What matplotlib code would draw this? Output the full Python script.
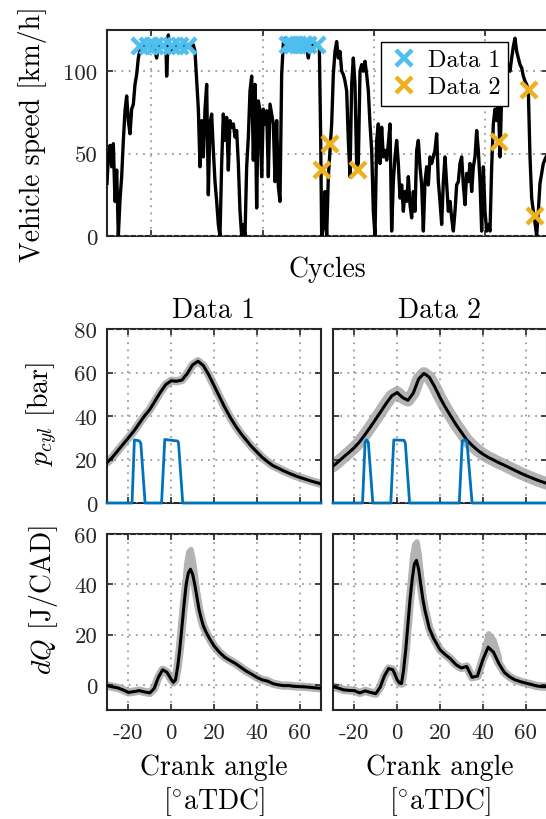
import numpy as np
import matplotlib
matplotlib.use("Agg")
import matplotlib.pyplot as plt

plt.rcParams.update({
    "font.family": ["cmr10", "DejaVu Serif"],
    "mathtext.fontset": "cm",
    "axes.unicode_minus": False,
})

# ---------------- data: vehicle speed over cycles ----------------
cycles = [0, 12, 27, 42, 57, 72, 87, 102, 117, 132, 147, 162, 177, 192, 207, 222, 237, 252, 267, 282,
          297, 327, 372, 417, 447, 462, 507, 531, 537, 552, 567, 612, 657, 702, 747, 777, 792, 807, 822,
          837, 852, 867, 882, 897, 912, 927, 942, 957, 972, 987, 1002, 1017, 1032, 1047, 1062, 1077,
          1092, 1107, 1122, 1137, 1152, 1167, 1182, 1197, 1212, 1227, 1242, 1257, 1272, 1287, 1302,
          1317, 1332, 1347, 1362, 1377, 1392, 1407, 1422, 1437, 1452, 1467, 1482, 1497, 1512, 1527,
          1542, 1557, 1572, 1587, 1602, 1647, 1707, 1767, 1797, 1812, 1827, 1872, 1911, 1923, 1932,
          1947, 1962, 1977, 1992, 2007, 2022, 2037, 2052, 2067, 2082, 2097, 2112, 2127, 2142, 2157,
          2172, 2187, 2202, 2217, 2232, 2247, 2262, 2277, 2292, 2307, 2322, 2337, 2352, 2367, 2382,
          2397, 2412, 2427, 2442, 2457, 2472, 2487, 2502, 2517, 2532, 2547, 2562, 2577, 2592, 2607,
          2622, 2637, 2652, 2667, 2682, 2697, 2712, 2727, 2742, 2757, 2772, 2787, 2802, 2817, 2832,
          2847, 2862, 2877, 2892, 2907, 2922, 2937, 2952, 2967, 2982, 2997, 3012, 3027, 3042, 3057,
          3072, 3087, 3102, 3117, 3132, 3147, 3162, 3177, 3192, 3207, 3222, 3237, 3252, 3267, 3282,
          3297, 3312, 3327, 3342, 3357, 3372, 3387, 3402, 3417, 3432, 3447, 3462, 3477, 3492, 3507,
          3522, 3537, 3552, 3567, 3582, 3597, 3612, 3627, 3642, 3657, 3672, 3687, 3702, 3717, 3732,
          3747, 3762, 3777, 3792, 3807, 3822, 3837, 3852, 3867, 3882, 3897, 3912, 3927, 3951, 3975]
speed = [32, 48, 55, 42, 56, 21, 40, 0, 22, 36, 58, 76, 85, 70, 62, 77, 80, 92, 98, 108,
         113, 116, 115, 116, 108, 116, 115, 114, 97, 122, 112, 116, 115, 116, 115, 116, 112, 95, 77,
         42, 70, 48, 77, 92, 25, 68, 74, 52, 33, 21, 7, 0, 44, 74, 58, 72,
         40, 70, 66, 68, 60, 64, 44, 15, 0, 7, 0, 42, 60, 88, 97,
         46, 92, 17, 82, 76, 36, 77, 68, 76, 36, 80, 74, 68, 33, 70,
         30, 21, 98, 117, 120, 116, 115, 116, 115, 108, 116, 116, 115, 60, 0,
         5, 27, 0, 36, 52, 68, 98, 112, 118, 108, 112, 100, 98, 94, 88,
         58, 36, 92, 108, 92, 42, 44, 100, 104, 100, 106, 98, 88, 68, 52,
         15, 0, 58, 68, 44, 66, 48, 52, 46, 56, 68, 3, 33, 48, 58,
         44, 23, 31, 15, 27, 21, 36, 19, 11, 27, 15, 52, 58, 42, 31,
         3, 33, 42, 31, 48, 44, 48, 52, 62, 33, 21, 7, 33, 48, 31,
         15, 21, 11, 3, 15, 31, 33, 44, 48, 31, 19, 38, 33, 44, 27,
         42, 48, 64, 52, 33, 3, 42, 15, 3, 7, 3, 42, 68, 77, 70,
         82, 48, 86, 92, 88, 98, 104, 100, 108, 115, 120, 112, 108, 104, 102,
         97, 94, 92, 88, 48, 23, 15, 8, 0, 15, 32, 38, 44, 48, 50]

d1_cycles = [297, 372, 432, 507, 582, 657, 732, 1632, 1677, 1722, 1767, 1812, 1887]
d1_speed = [115, 115, 115, 115, 115, 115, 115, 116, 116, 116, 116, 116, 116]
d2_cycles = [1932, 2007, 2262, 3531, 3801, 3852]
d2_speed = [40, 56, 40, 57, 88.6, 12.4]

# ---------------- data: cylinder pressure ----------------
angle_p = [-30, -27.5, -25, -22.5, -20, -17.5, -15, -12.5, -10, -7.5, -5, -2.5, 0, 2.5, 5, 7.5,
           10, 12.5, 15, 17.5, 20, 22.5, 25, 27.5, 30, 32.5, 35, 37.5, 40, 42.5, 45, 47.5,
           50, 52.5, 55, 57.5, 60, 62.5, 65, 67.5, 70]
p_data1 = [18.6, 21, 24, 27, 30, 33, 36.5, 40, 43, 47, 51, 54.5, 56.2, 56, 56.5, 59.5,
           63.5, 65.2, 63.2, 59, 54, 49, 44, 39.5, 35.5, 32, 29, 26, 23.5, 21, 19, 17.2,
           16, 14.8, 13.7, 12.7, 11.8, 11, 10.2, 9.5, 8.8]
p_data2 = [17, 19, 21.2, 23.3, 25.5, 28.2, 31.5, 35, 38.6, 42.3, 46, 49.3, 50.8, 48.5, 47.2, 50.5,
           57, 59.6, 57.8, 53.5, 48.5, 44, 40, 36, 32.5, 29, 26.5, 24.3, 22.5, 21, 19.8, 18.5,
           17.4, 16.2, 15, 13.8, 12.7, 11.7, 10.7, 9.8, 9]

inj1_angle = [-30, -18.3, -17.2, -15.0, -14.2, -12.2, -4.5, -3.0, 3.0, 3.4, 5.4, 70]
inj1_value = [0, 0, 29, 28.6, 27.5, 0, 0, 29.2, 28.5, 27.8, 0, 0]
inj2_angle = [-30, -16.2, -15.0, -14.3, -13.5, -11.4, -3.0, -1.6, 3.2, 3.8, 5.8,
              29.0, 30.4, 31.6, 32.6, 35.0, 70]
inj2_value = [0, 0, 28, 29, 28, 0, 0, 29, 28.8, 27.5, 0, 0, 28.5, 29, 28, 0, 0]

# ---------------- data: heat release ----------------
angle_q = [-30, -27.5, -25, -22.5, -20, -17.5, -15, -12.5, -10, -8, -6, -4, -2, 0, 1, 2, 3, 4, 5,
           6, 7, 8, 9, 10, 11, 12, 13, 14, 15, 16, 17, 18, 20, 22.5, 25, 27.5, 30, 32.5, 35,
           37.5, 40, 42.5, 45, 47.5, 50, 52.5, 55, 57.5, 60, 62.5, 65, 67.5, 70]
dq_data1 = [-0.3, -0.8, -1.2, -2, -3, -2.7, -2.3, -2.8, -3.2, -1.5, 3, 6, 5, 2.2, 1, 2, 7, 14, 23,
            32, 40, 44.5, 46, 44, 40, 35, 30, 26.5, 23.5, 21.5, 19.8, 18.3, 15.5, 13, 11, 9.7, 8.5,
            7, 5.5, 4.3, 3, 2, 1.5, 0.5, 0, -0.3, -0.3, -0.6, -0.7, -0.8, -1, -1.2, -1.4]
dq_data2 = [-0.7, -1.3, -2, -2.2, -2.3, -3.2, -2.4, -3, -3.5, -1, 3.5, 6.5, 6, 2, 0.8, 0.5, 6, 14, 24,
            34, 42, 48, 49.5, 46, 40, 34, 29.5, 26, 22.5, 20.5, 18.5, 17, 14, 12, 10.3, 8, 6.7,
            7.3, 3, 3.5, 10, 15, 13, 8.5, 5, 3.2, 2, 1.3, 0.7, 0.2, -0.4, -0.7, -0.7]

# upper envelope of the individual cycles (grey band) where it departs from the mean
dq1_env_angle = [3, 4, 5, 6, 7, 8, 9, 10, 11, 12, 13, 14]
dq1_env_max = [8, 16, 27, 38, 48, 53, 54, 50, 44, 37, 31, 27.5]
dq2_env_angle = [3, 4, 5, 6, 7, 8, 9, 10, 11, 12, 13, 14, 37.5, 40, 42.5, 45, 47.5]
dq2_env_max = [8, 17, 29, 41, 51, 56, 57, 52, 44, 36, 31, 27, 5, 13, 20.5, 18, 11]

angle_ticks = [-20, 0, 20, 40, 60]
angle_ticklabels = ["-20", "0", "20", "40", "60"]

# ---------------- styling ----------------
W, H = 546, 820
SPINE = "#262626"
GRID = dict(color="#9a9a9a", linestyle=(0, (1, 3)), linewidth=1.3)
CYAN = "#4DBEEE"
ORANGE = "#EDB120"
BLUE = "#0072BD"
GRAY = "#b3b3b3"
TICKFS = 16.5
LABFS = 20


def px_axes(x0, y0, x1, y1):
    return fig.add_axes([x0 / W, 1 - y1 / H, (x1 - x0) / W, (y1 - y0) / H])


def style(ax):
    for s in ax.spines.values():
        s.set_color(SPINE)
        s.set_linewidth(1.5)
    ax.tick_params(direction="in", length=4, width=1.2, colors=SPINE,
                   top=True, right=True, labelsize=TICKFS, labelcolor="#262626", pad=7)
    ax.grid(True, **GRID)
    ax.set_axisbelow(False)


fig = plt.figure(figsize=(W / 100, H / 100), dpi=100)

# ---- top panel ----
ax0 = px_axes(107, 31, 548, 237)
style(ax0)
ax0.plot(cycles, speed, color="black", lw=2.4, zorder=3)
ax0.plot(d1_cycles, d1_speed, ls="none", marker="x", ms=11, mew=3.2, color=CYAN, zorder=4, label="Data 1")
ax0.plot(d2_cycles, d2_speed, ls="none", marker="x", ms=11, mew=3.2, color=ORANGE, zorder=4, label="Data 2")
ax0.set_xlim(0, 3969)
ax0.set_ylim(0, 125)
ax0.set_xticks([400, 1400, 2400, 3400])
ax0.set_xticklabels([])
ax0.set_yticks([0, 50, 100])
ax0.set_yticklabels(["0", "50", "100"])
ax0.set_xlabel("Cycles", fontsize=LABFS, labelpad=7)
ax0.set_ylabel("Vehicle speed [km/h]", fontsize=LABFS)
ax0.yaxis.set_label_coords(-0.136, 0.5)
leg = ax0.legend(loc="upper left", bbox_to_anchor=(381 / W, 1 - 43 / H), bbox_transform=fig.transFigure,
                 fontsize=17.5, frameon=True, fancybox=False, borderpad=0.3, handletextpad=0.35,
                 handlelength=1.3, labelspacing=0.2, borderaxespad=0)
leg.get_frame().set_edgecolor("black")
leg.get_frame().set_linewidth(1.0)
leg.get_frame().set_alpha(1)

# ---- pressure panels ----
axp1 = px_axes(107, 330, 321, 504)
axp2 = px_axes(333, 330, 547, 504)
for ax, p, ia, iv, title, glw in [(axp1, p_data1, inj1_angle, inj1_value, "Data 1", 6),
                                  (axp2, p_data2, inj2_angle, inj2_value, "Data 2", 9)]:
    style(ax)
    ax.plot(angle_p, p, color=GRAY, lw=glw, solid_capstyle="round", zorder=2)
    ax.plot(angle_p, p, color="black", lw=2.2, zorder=3)
    ax.plot(ia, iv, color=BLUE, lw=2.0, zorder=4, clip_on=False)
    ax.set_xlim(-30, 70)
    ax.set_ylim(0, 80)
    ax.set_xticks(angle_ticks)
    ax.set_xticklabels([])
    ax.set_yticks([0, 20, 40, 60, 80])
    ax.set_title(title, fontsize=LABFS, pad=9)
axp1.set_yticklabels(["0", "20", "40", "60", "80"])
axp2.set_yticklabels([])
axp1.set_ylabel(r"$p_{cyl}$ [bar]", fontsize=LABFS)
axp1.yaxis.set_label_coords(-0.22, 0.517)

# ---- heat release panels ----
axq1 = px_axes(107, 535, 321, 711)
axq2 = px_axes(333, 535, 547, 711)
for ax, q, ea, em in [(axq1, dq_data1, dq1_env_angle, dq1_env_max),
                      (axq2, dq_data2, dq2_env_angle, dq2_env_max)]:
    style(ax)
    ax.plot(angle_q, q, color=GRAY, lw=6, solid_capstyle="round", zorder=2)
    # split envelope into contiguous runs
    runs, cur = [], [0]
    for k in range(1, len(ea)):
        if ea[k] - ea[k - 1] > 3:
            runs.append(cur)
            cur = []
        cur.append(k)
    runs.append(cur)
    for r in runs:
        xs = [ea[k] for k in r]
        hi = [em[k] for k in r]
        lo = [q[angle_q.index(a)] for a in xs]
        ax.fill_between(xs, lo, hi, color=GRAY, lw=4, edgecolor=GRAY, zorder=2)
    ax.plot(angle_q, q, color="black", lw=2.2, zorder=3)
    ax.set_xlim(-30, 70)
    ax.set_ylim(-10, 60)
    ax.set_xticks(angle_ticks)
    ax.set_xticklabels(angle_ticklabels)
    ax.set_yticks([0, 20, 40, 60])
    ax.tick_params(axis="x", pad=9)
    ax.set_xlabel("Crank angle\n" + r"$[^{\circ}\mathrm{aTDC}]$", fontsize=LABFS, labelpad=8,
                  linespacing=1.2)
axq1.set_yticklabels(["0", "20", "40", "60"])
axq2.set_yticklabels([])
axq1.set_ylabel(r"$dQ$ [J/CAD]", fontsize=LABFS)
axq1.yaxis.set_label_coords(-0.22, 0.63)

fig.savefig("out.png", dpi=100)
